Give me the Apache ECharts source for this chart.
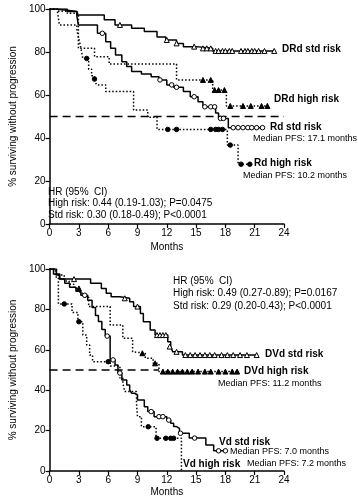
<!DOCTYPE html>
<html>
<head>
<meta charset="utf-8">
<script src="https://cdn.jsdelivr.net/npm/echarts@6/dist/echarts.min.js"></script>
<style>
html,body{margin:0;padding:0;background:#fff;}
#c{width:358px;height:500px;}
</style>
</head>
<body>
<div id="c"></div>
<script>
// ---------- data ----------
const monthTicks = [0, 3, 6, 9, 12, 15, 18, 21, 24];
const valueTicks = [0, 20, 40, 60, 80, 100];

// Top panel (DRd vs Rd)
const drdStd = [[0,100],[0.5,99.5],[1.6,98.8],[2.8,97.2],[5.6,95],[6.7,92.6],[8.4,91],[9.7,89.5],[11,87],[11.9,85.6],[13,84],[13.7,82.5],[15,81.7],[16.7,80.5],[23,80.5]];
const drdStdCens = [[7.2,92.6],[12.0,85.6],[13.0,84],[14.8,82.5],[15.7,81.7],[16.1,81.7],[16.5,81.7],[17.0,80.5],[17.3,80.5],[17.7,80.5],[18.0,80.5],[18.4,80.5],[18.7,80.5],[19.6,80.5],[20.0,80.5],[20.3,80.5],[20.7,80.5],[21.0,80.5],[21.4,80.5],[22.0,80.5],[23.0,80.5]];
const drdHigh = [[0,100],[0.8,99],[1.8,98],[2.95,81.7],[4.6,77.8],[6.1,74.4],[13.0,67],[16.7,62.3],[18.1,54.9],[22.3,54.9]];
const drdHighCens = [[15.7,67],[16.5,67],[16.9,62.3],[17.3,62.3],[17.9,62.3],[18.5,54.9],[19.8,54.9],[20.6,54.9],[21.7,54.9],[22.3,54.9]];
const rdStd = [[0,100],[1.8,98.8],[2.8,96.4],[2.95,92.6],[4.9,88.7],[5.75,84.8],[6.25,81.7],[6.75,78.6],[7.4,75.5],[7.9,73.2],[8.4,70.9],[9.4,69.8],[10.4,68.5],[11.2,67],[12.0,64.7],[12.7,63.6],[13.7,61.6],[14.4,59.2],[15.2,56.9],[15.7,54.5],[17.0,51.6],[17.3,49.1],[18.3,44.8],[21.8,44.8]];
const rdStdCens = [[5.4,88.7],[11.3,67],[12.5,64.7],[13.0,63.6],[14.8,59.2],[15.9,54.5],[16.5,54.5],[16.9,54.5],[17.5,49.1],[17.8,49.1],[18.8,44.8],[19.3,44.8],[19.8,44.8],[20.3,44.8],[20.7,44.8],[21.2,44.8],[21.8,44.8]];
const rdHigh = [[0,100],[0.8,99],[1.0,92.6],[2.8,90],[3.0,86],[3.2,82],[3.4,77],[4.0,72],[4.3,69],[4.6,67.4],[4.8,64.7],[5.75,61.6],[8.6,53],[10.05,49.6],[11.0,44],[18.2,36.7],[19.3,27.8],[20.5,27.8]];
const rdHighCens = [[3.8,77],[4.6,67.4],[12.1,44],[13.0,44],[16.5,44],[17.0,44],[17.3,44],[17.7,44],[18.5,36.7],[19.6,27.8],[20.5,27.8]];
const topMedianLine = [[0,50],[24,50]];

// Bottom panel (DVd vs Vd)
const dvdStd = [[0,100],[0.7,97],[1.0,95],[4.2,92.9],[5.3,90.4],[5.8,88],[6.3,86.3],[7.2,85.5],[8.2,83.8],[8.6,81.4],[9.3,78],[9.6,73.9],[10.3,69.8],[10.8,67.3],[12.1,64],[12.4,61.6],[12.6,59],[13.6,57.4],[21.2,57.4]];
const dvdStdCens = [[2.5,95],[7.7,85.5],[9.0,81.4],[11.0,67.3],[11.3,67.3],[11.6,67.3],[11.9,67.3],[12.3,61.6],[13.0,59],[13.9,57.4],[14.4,57.4],[14.9,57.4],[15.4,57.4],[15.9,57.4],[16.4,57.4],[16.9,57.4],[17.6,57.4],[18.2,57.4],[18.8,57.4],[19.5,57.4],[20.2,57.4],[21.2,57.4]];
const dvdHigh = [[0,100],[0.7,97],[1.5,94],[2.0,92.5],[2.5,90.4],[3.1,88],[3.5,86],[4.0,81.4],[6.2,72.3],[7.5,65.7],[8.5,59],[8.7,58.3],[9.8,55.8],[10.6,53.3],[11.2,49.2],[19.2,49.2]];
const dvdHighCens = [[3.0,90.4],[9.5,58.3],[10.8,53.3],[11.6,49.2],[12.1,49.2],[12.6,49.2],[13.1,49.2],[13.6,49.2],[14.1,49.2],[14.6,49.2],[15.2,49.2],[15.9,49.2],[16.5,49.2],[17.3,49.2],[18.0,49.2],[18.7,49.2],[19.2,49.2]];
const vdStd = [[0,100],[0.4,97.5],[1.05,95],[1.55,93],[2.05,91],[2.7,89],[3.2,87],[3.9,84.5],[4.35,81],[4.7,77],[5.0,74],[5.35,70],[5.7,66.8],[6.2,55],[6.7,52.5],[7.0,48.5],[7.4,45],[7.9,42.6],[8.2,40.1],[8.4,38.5],[8.7,37.7],[9.0,35.1],[9.7,31.8],[10.05,29.4],[10.7,26.9],[12.0,25.2],[12.4,23.6],[12.7,22],[13.0,21.1],[13.3,18.7],[14.3,16.3],[16.0,12.9],[16.8,10],[18.0,10]];
const vdStdCens = [[3.6,87],[5.9,66.8],[6.5,55],[7.2,48.5],[10.4,29.4],[11.2,26.9],[11.6,26.9],[12.2,25.2],[13.4,18.7],[14.85,16.3],[17.3,10],[18.0,10]];
const vdHigh = [[0,100],[0.6,96],[0.9,82.7],[2.3,78.5],[2.9,73.9],[3.4,67.3],[3.8,62.4],[4.1,57.4],[4.4,54.1],[6.2,52],[7.2,46],[7.5,43.4],[7.7,39.3],[8.9,33.5],[9.0,26.9],[9.4,21.9],[10.9,16.2],[13.5,0]];
const vdHighCens = [[1.5,82.7],[3.0,73.9],[6.0,54.1],[10.1,21.9],[11.0,16.2],[11.9,16.2],[12.4,16.2],[12.7,16.2]];
const bottomMedianLine = [[0,50],[11.2,50]];

// ---------- chart ----------
const FONT = '"Liberation Sans", Arial, sans-serif';
const chart = echarts.init(document.getElementById('c'), null, {renderer: 'canvas'});

function km(data, gi, dotted) {
  return {type: 'line', step: 'end', data: data, xAxisIndex: gi, yAxisIndex: gi,
    symbol: 'none', silent: true, z: 2,
    lineStyle: {color: '#000', width: 1.5, type: dotted ? [1.5, 2] : 'solid'}};
}
function cens(data, gi, sym, filled) {
  return {type: 'scatter', data: data, xAxisIndex: gi, yAxisIndex: gi, silent: true, z: 3,
    symbol: sym, symbolSize: sym === 'triangle' ? 5 : 4.5,
    itemStyle: {color: filled ? '#000' : '#fff', borderColor: '#000', borderWidth: 1, opacity: 1}};
}
function ref(data, gi) {
  return {type: 'line', data: data, xAxisIndex: gi, yAxisIndex: gi, symbol: 'none', silent: true, z: 1,
    lineStyle: {color: '#000', width: 1.3, type: [8, 5]}};
}
function xAx(gi, gap) {
  return {type: 'value', gridIndex: gi, min: monthTicks[0], max: monthTicks[monthTicks.length-1], interval: 3,
    name: 'Months', nameLocation: 'middle', nameGap: gap,
    nameTextStyle: {fontFamily: FONT, fontSize: 10, color: '#000'},
    axisLine: {show: true, onZero: false, lineStyle: {color: '#000', width: 1.5}},
    axisTick: {show: true, length: 4, lineStyle: {color: '#000', width: 1.2}},
    axisLabel: {fontFamily: FONT, fontSize: 10, color: '#000', margin: 4},
    splitLine: {show: false}};
}
function yAx(gi) {
  return {type: 'value', gridIndex: gi, min: valueTicks[0], max: valueTicks[valueTicks.length-1], interval: 20,
    name: '% surviving without progression', nameLocation: 'middle', nameGap: 27, nameRotate: 90,
    nameTextStyle: {fontFamily: FONT, fontSize: 10, color: '#000'},
    axisLine: {show: true, lineStyle: {color: '#000', width: 1.5}},
    axisTick: {show: true, length: 4, lineStyle: {color: '#000', width: 1.2}},
    axisLabel: {fontFamily: FONT, fontSize: 10, color: '#000', margin: 4},
    splitLine: {show: false}};
}
function txt(s, x, y, size, bold) {
  return {type: 'text', x: x, y: y, silent: true, z: 10,
    style: {text: s, fill: '#000', font: (bold ? 'bold ' : '') + size + 'px ' + FONT,
      textVerticalAlign: 'middle', verticalAlign: 'middle', textAlign: 'left', align: 'left'}};
}

const option = {
  animation: false,
  backgroundColor: '#fff',
  grid: [
    {left: 42, top: 9, width: 242, height: 215},
    {left: 42, top: 269, width: 242, height: 202}
  ],
  xAxis: [xAx(0, 18), xAx(1, 16)],
  yAxis: [yAx(0), yAx(1)],
  series: [
    ref(topMedianLine, 0),
    km(drdStd, 0, false), km(drdHigh, 0, true), km(rdStd, 0, false), km(rdHigh, 0, true),
    cens(drdStdCens, 0, 'triangle', false), cens(drdHighCens, 0, 'triangle', true),
    cens(rdStdCens, 0, 'circle', false), cens(rdHighCens, 0, 'circle', true),
    ref(bottomMedianLine, 1),
    km(dvdStd, 1, false), km(dvdHigh, 1, true), km(vdStd, 1, false), km(vdHigh, 1, true),
    cens(dvdStdCens, 1, 'triangle', false), cens(dvdHighCens, 1, 'triangle', true),
    cens(vdStdCens, 1, 'circle', false), cens(vdHighCens, 1, 'circle', true)
  ],
  graphic: [
    txt('DRd std risk', 282, 49, 10, true),
    txt('DRd high risk', 274, 99, 10, true),
    txt('Rd std risk', 270, 127, 10, true),
    txt('Median PFS: 17.1 months', 253, 139, 9, false),
    txt('Rd high risk', 254, 163, 10, true),
    txt('Median PFS: 10.2 months', 243, 176, 9, false),
    txt('HR (95%  CI)', 48, 192, 10, false),
    txt('High risk: 0.44 (0.19-1.03); P=0.0475', 48, 203.5, 10, false),
    txt('Std risk: 0.30 (0.18-0.49); P<0.0001', 48, 215, 10, false),
    txt('HR (95%  CI)', 173, 281, 10, false),
    txt('High risk: 0.49 (0.27-0.89); P=0.0167', 173, 293.5, 10, false),
    txt('Std risk: 0.29 (0.20-0.43); P<0.0001', 173, 306, 10, false),
    txt('DVd std risk', 265, 354, 10, true),
    txt('DVd high risk', 244, 371, 10, true),
    txt('Median PFS: 11.2 months', 218, 384, 9, false),
    txt('Vd std risk', 219, 442, 10, true),
    txt('Median PFS: 7.0 months', 230, 452, 9, false),
    txt('Vd high risk', 183, 464, 10, true),
    txt('Median PFS: 7.2 months', 247, 464, 9, false)
  ]
};
chart.setOption(option);
</script>
</body>
</html>
